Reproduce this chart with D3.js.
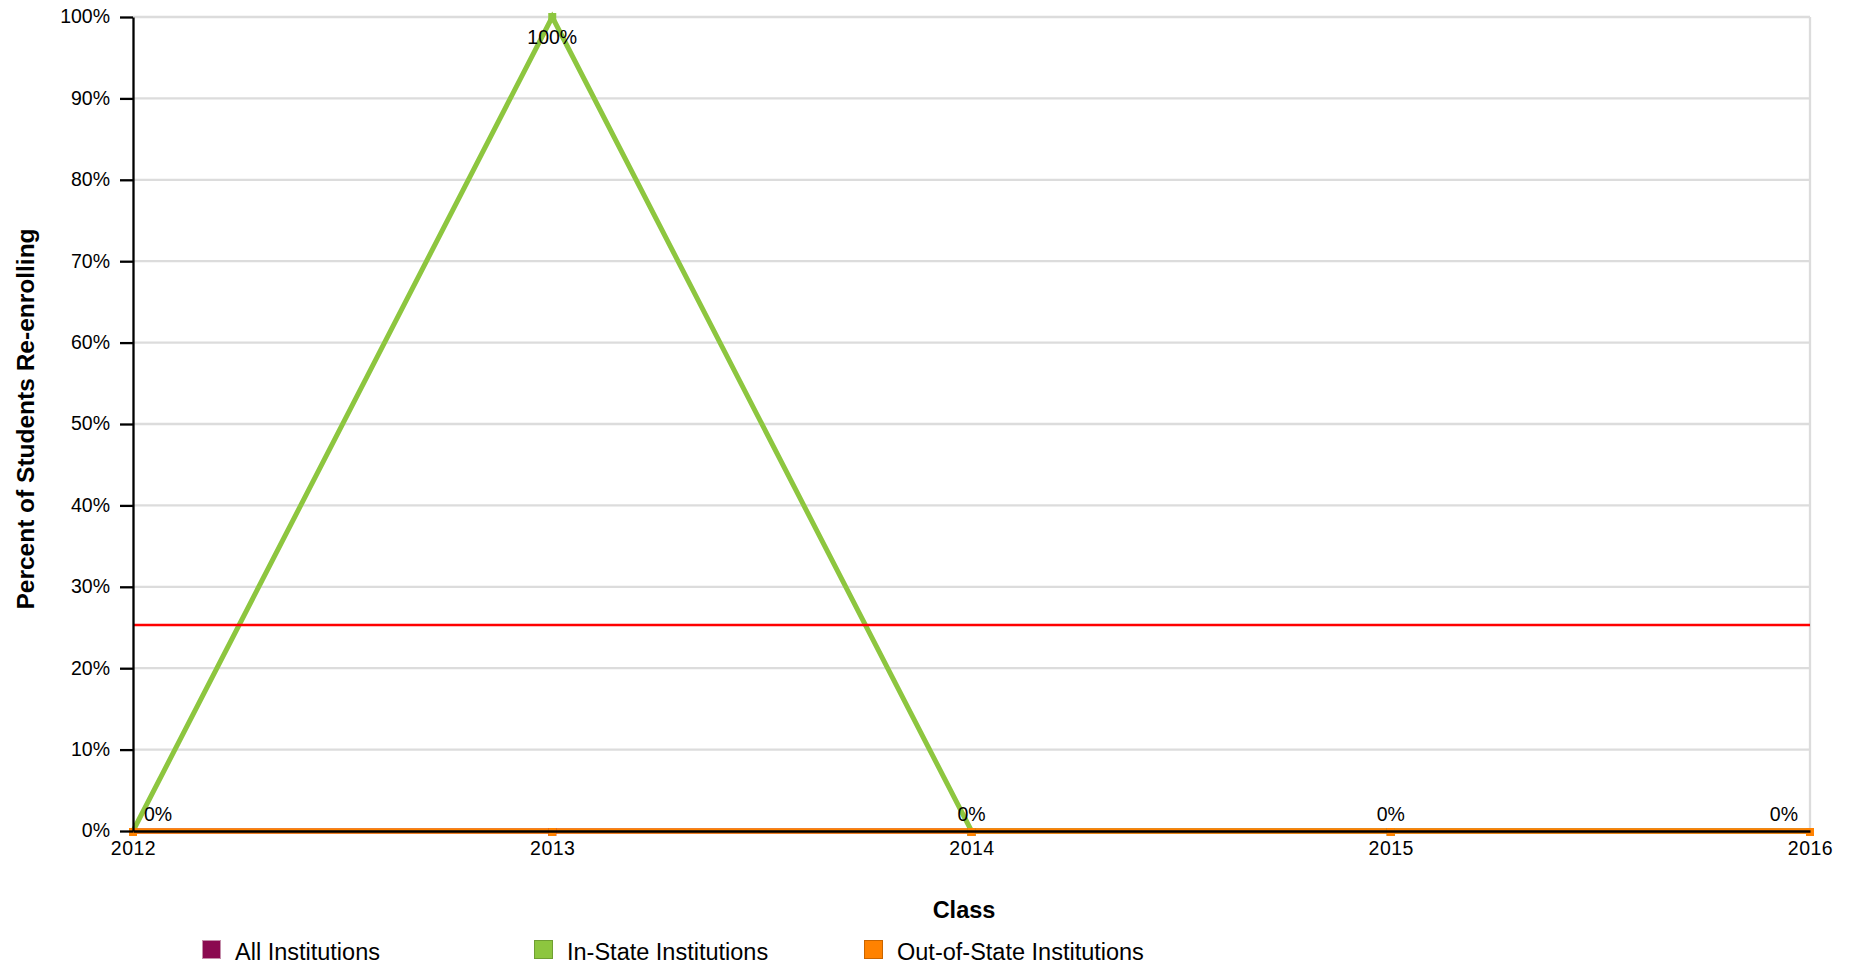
<!DOCTYPE html>
<html>
<head>
<meta charset="utf-8">
<script src="https://cdn.jsdelivr.net/npm/d3@7"></script>
<style>
  html, body { margin: 0; padding: 0; background: #fff; }
  svg { display: block; font-family: "Liberation Sans", Arial, Helvetica, sans-serif; }
</style>
</head>
<body>
<svg id="chart" width="1852" height="966"></svg>
<script>
// ---- data ----
const years = [2012, 2013, 2014, 2015, 2016];
const allInstitutions = [0, 0, 0, 0, 0];
const inStateInstitutions = [0, 100, 0, 0, 0];
const outOfStateInstitutions = [0, 0, 0, 0, 0];
const benchmarkValue = 25.3;
const yTickValues = [0, 10, 20, 30, 40, 50, 60, 70, 80, 90, 100];
const seriesNames = ["All Institutions", "In-State Institutions", "Out-of-State Institutions"];
const seriesColors = ["#8B0A50", "#8DC63F", "#FF8200"];
const legendBorders = ["#c58fab", "#6f9f33", "#c96500"];
const xTitle = "Class";
const yTitle = "Percent of Students Re-enrolling";

(function () {
// ---- layout ----
const svg = d3.select("#chart");
const pLeft = 133, pRight = 1810, pTop = 17, pBottom = 831;

const x = d3.scaleLinear().domain([2012, 2016]).range([pLeft, pRight]);
const y = d3.scaleLinear().domain([0, 100]).range([pBottom, pTop]);

// gridlines
svg.append("g").selectAll("line").data(yTickValues).join("line")
  .attr("x1", pLeft).attr("x2", pRight)
  .attr("y1", d => y(d)).attr("y2", d => y(d))
  .attr("stroke", "#dcdcdc").attr("stroke-width", 2.3);

// right border
svg.append("line")
  .attr("x1", pRight).attr("x2", pRight).attr("y1", y(100)).attr("y2", y(0))
  .attr("stroke", "#dcdcdc").attr("stroke-width", 2.3);

// series
const seriesData = [allInstitutions, inStateInstitutions, outOfStateInstitutions];
const line = d3.line().x((d, i) => x(years[i])).y(d => y(d));

seriesData.forEach((vals, si) => {
  svg.append("path")
    .datum(vals)
    .attr("fill", "none")
    .attr("stroke", seriesColors[si])
    .attr("stroke-width", si === 2 ? 5.5 : 5)
    .attr("stroke-linejoin", "miter")
    .attr("d", line);
});

// markers
seriesData.forEach((vals, si) => {
  svg.append("g").selectAll("rect").data(vals).join("rect")
    .attr("x", (d, i) => x(years[i]) - 4)
    .attr("y", d => y(d) - 4 + (d === 0 ? 1 : 0))
    .attr("width", 8).attr("height", 8)
    .attr("fill", seriesColors[si]);
});

// benchmark line
svg.append("line")
  .attr("x1", pLeft).attr("x2", pRight)
  .attr("y1", y(benchmarkValue)).attr("y2", y(benchmarkValue))
  .attr("stroke", "#ff0000").attr("stroke-width", 2.5);

// axes
const yAxis = d3.axisLeft(y).tickValues(yTickValues).tickFormat(d => d + "%")
  .tickSize(13).tickSizeOuter(0).tickPadding(10);
const gy = svg.append("g").attr("transform", `translate(${pLeft},0)`).call(yAxis);
gy.selectAll(".tick line").attr("stroke", "#000").attr("stroke-width", 2.3);
gy.select(".domain").attr("stroke", "#000").attr("stroke-width", 2.3);
gy.selectAll("text").attr("font-size", 19.5).attr("fill", "#000")
  .attr("font-family", "Liberation Sans, Arial, sans-serif").attr("dy", "0.3em");

const xAxis = d3.axisBottom(x).tickValues(years).tickFormat(d3.format("d"))
  .tickSize(0).tickSizeOuter(0).tickPadding(10.5);
const gx = svg.append("g").attr("transform", `translate(0,${pBottom})`).call(xAxis);
gx.select(".domain").attr("stroke", "#000").attr("stroke-width", 2.5);
gx.selectAll("text").attr("font-size", 19.5).attr("fill", "#000")
  .attr("letter-spacing", "0.5px")
  .attr("font-family", "Liberation Sans, Arial, sans-serif");

// data labels (In-State series)
const lbl = svg.append("g").attr("font-size", 19.5).attr("fill", "#000");
inStateInstitutions.forEach((v, i) => {
  const px = x(years[i]), py = y(v);
  const t = lbl.append("text").attr("text-anchor", "middle").text(v + "%");
  const w = t.node().getComputedTextLength();
  let cx = px;
  if (cx - w / 2 < pLeft + 11) cx = pLeft + 11 + w / 2;
  if (cx + w / 2 > pRight - 12) cx = pRight - 12 - w / 2;
  let by = py - 10;
  if (by - 14 < pTop) by = py + 27;
  t.attr("x", cx).attr("y", by);
});

// axis titles
svg.append("text")
  .attr("x", 964).attr("y", 918)
  .attr("text-anchor", "middle")
  .attr("font-size", 23.5).attr("font-weight", "bold").attr("fill", "#000")
  .text(xTitle);

svg.append("text")
  .attr("transform", "translate(34,419) rotate(-90)")
  .attr("text-anchor", "middle")
  .attr("font-size", 24.5).attr("font-weight", "bold").attr("fill", "#000")
  .text(yTitle);

// legend
const legendX = [202, 534, 864];
const lg = svg.append("g");
seriesNames.forEach((name, i) => {
  lg.append("rect")
    .attr("x", legendX[i] + 0.5).attr("y", 940.5)
    .attr("width", 18).attr("height", 18)
    .attr("fill", seriesColors[i])
    .attr("stroke", legendBorders[i]).attr("stroke-width", 1);
  lg.append("text")
    .attr("x", legendX[i] + 33).attr("y", 960)
    .attr("font-size", 23.5).attr("fill", "#000")
    .text(name);
});
})();
</script>
</body>
</html>
